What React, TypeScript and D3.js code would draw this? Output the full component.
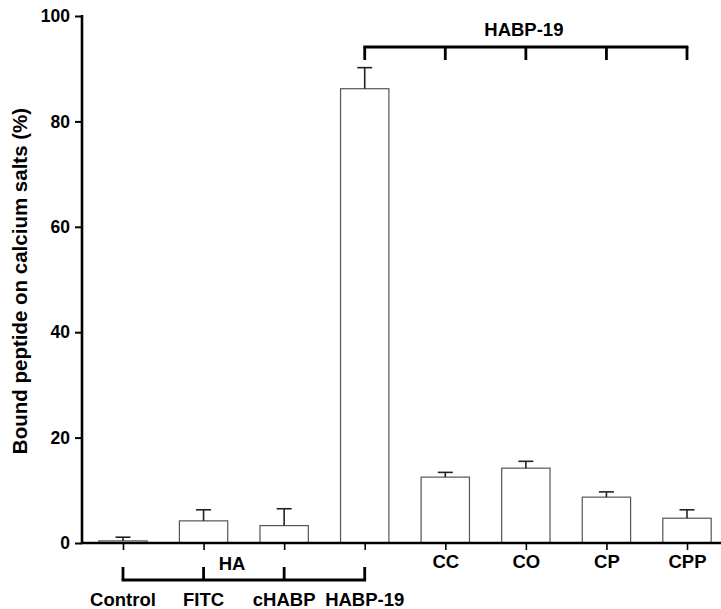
import React, { useEffect, useRef } from "react";
import * as d3 from "d3";

const categories = ["Control", "FITC", "cHABP", "HABP-19", "CC", "CO", "CP", "CPP"];
const means = [0.4, 4.2, 3.3, 86.2, 12.5, 14.2, 8.7, 4.7];
const errTops = [1.1, 6.3, 6.5, 90.2, 13.4, 15.5, 9.7, 6.3];
const yTicks = [0, 20, 40, 60, 80, 100];
const axisLabels = ["", "", "", "", "CC", "CO", "CP", "CPP"];
const haGroup = ["Control", "FITC", "cHABP", "HABP-19"];
const habpGroup = ["HABP-19", "CC", "CO", "CP", "CPP"];

const FONT = "Arial, 'Liberation Sans', sans-serif";

function App() {
    const svgRef = useRef<SVGSVGElement | null>(null);

    useEffect(() => {
        const width = 721;
        const height = 609;
        const left = 82;
        const top = 16;
        const bottom = 543;

        const svg = d3.select(svgRef.current);
        svg.selectAll("*").remove();
        svg.attr("width", width).attr("height", height);

        const x = d3.scalePoint<string>().domain(categories).range([123, 687]);
        const barW = x.step() * 0.6;
        const y = d3.scaleLinear().domain([0, 100]).range([bottom, top]);

        // bars
        svg.append("g")
            .selectAll("rect")
            .data(categories)
            .enter()
            .append("rect")
            .attr("x", (d) => (x(d) as number) - barW / 2)
            .attr("y", (d, i) => y(means[i]))
            .attr("width", barW)
            .attr("height", (d, i) => bottom - y(means[i]))
            .attr("fill", "#fff")
            .attr("stroke", "#555")
            .attr("stroke-width", 1.2);

        // error bars
        const eg = svg.append("g").attr("stroke", "#222").attr("stroke-width", 1.6);
        categories.forEach((c, i) => {
            const cx = x(c) as number;
            eg.append("line").attr("x1", cx).attr("x2", cx).attr("y1", y(means[i])).attr("y2", y(errTops[i]));
            eg.append("line").attr("x1", cx - 7.5).attr("x2", cx + 7.5).attr("y1", y(errTops[i])).attr("y2", y(errTops[i]));
        });

        // y axis
        const yAxis = svg.append("g")
            .attr("transform", `translate(${left},0)`)
            .call(d3.axisLeft(y).tickValues(yTicks).tickSize(7).tickPadding(5));
        yAxis.select(".domain").remove();
        yAxis.selectAll(".tick line").attr("stroke", "#000").attr("stroke-width", 2);
        yAxis.selectAll(".tick text")
            .attr("font-family", FONT)
            .attr("font-weight", "bold")
            .attr("font-size", 17.5)
            .attr("fill", "#000");
        svg.append("line")
            .attr("x1", left).attr("x2", left)
            .attr("y1", top - 1).attr("y2", bottom + 1)
            .attr("stroke", "#000").attr("stroke-width", 2.6);

        // x axis
        const xAxis = svg.append("g")
            .attr("transform", `translate(0,${bottom})`)
            .call(d3.axisBottom(x).tickSize(7).tickPadding(5).tickFormat((d, i) => axisLabels[i]));
        xAxis.select(".domain").remove();
        xAxis.selectAll(".tick line").attr("stroke", "#000").attr("stroke-width", 1.6);
        xAxis.selectAll(".tick text")
            .attr("font-family", FONT)
            .attr("font-weight", "bold")
            .attr("font-size", 18.5)
            .attr("fill", "#000");
        svg.append("line")
            .attr("x1", left - 1).attr("x2", width)
            .attr("y1", bottom).attr("y2", bottom)
            .attr("stroke", "#000").attr("stroke-width", 2.6);

        // HA label
        svg.append("text")
            .attr("x", 232).attr("y", 570)
            .attr("text-anchor", "middle")
            .attr("font-family", FONT).attr("font-weight", "bold").attr("font-size", 18.5)
            .text("HA");

        // bottom bracket
        const bb = svg.append("g").attr("stroke", "#000").attr("stroke-width", 2.8).attr("fill", "none");
        const bx0 = x(haGroup[0]) as number;
        const bx1 = x(haGroup[haGroup.length - 1]) as number;
        bb.append("line").attr("x1", bx0 - 1.4).attr("x2", bx1 + 1.4).attr("y1", 580).attr("y2", 580);
        haGroup.forEach((c) => {
            const cx = x(c) as number;
            bb.append("line").attr("x1", cx).attr("x2", cx).attr("y1", 567).attr("y2", 580);
        });
        svg.append("g")
            .selectAll("text")
            .data(haGroup)
            .enter()
            .append("text")
            .attr("x", (d) => x(d) as number)
            .attr("y", 606)
            .attr("text-anchor", "middle")
            .attr("font-family", FONT).attr("font-weight", "bold").attr("font-size", 18.5)
            .text((d) => d);

        // top bracket
        const tb = svg.append("g").attr("stroke", "#000").attr("stroke-width", 2.8).attr("fill", "none");
        const tx0 = x(habpGroup[0]) as number;
        const tx1 = x(habpGroup[habpGroup.length - 1]) as number;
        tb.append("line").attr("x1", tx0 - 1.4).attr("x2", tx1 + 1.4).attr("y1", 47).attr("y2", 47);
        habpGroup.forEach((c) => {
            const cx = x(c) as number;
            tb.append("line").attr("x1", cx).attr("x2", cx).attr("y1", 47).attr("y2", 60);
        });
        svg.append("text")
            .attr("x", (tx0 + tx1) / 2 - 2).attr("y", 36)
            .attr("text-anchor", "middle")
            .attr("font-family", FONT).attr("font-weight", "bold").attr("font-size", 18.5)
            .text("HABP-19");

        // y label
        svg.append("text")
            .attr("transform", `translate(27,281) rotate(-90)`)
            .attr("text-anchor", "middle")
            .attr("font-family", FONT).attr("font-weight", "bold").attr("font-size", 20.5)
            .text("Bound peptide on calcium salts (%)");
    }, []);

    return (
        <div style={{ position: "absolute", left: 0, top: 0 }}>
            <svg ref={svgRef} style={{ display: "block" }} />
        </div>
    );
}

export default App;
